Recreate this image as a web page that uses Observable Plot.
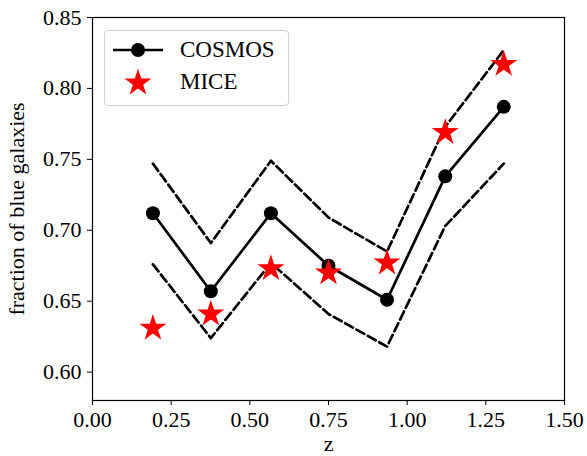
<!DOCTYPE html>
<html>
<head>
<meta charset="utf-8">
<script src="https://cdn.jsdelivr.net/npm/d3@7"></script>
<script src="https://cdn.jsdelivr.net/npm/@observablehq/plot@0.6"></script>
<style>
  html, body { margin: 0; padding: 0; background: #fff; }
  #wrap { position: relative; width: 587px; height: 456px; font-family: "Liberation Serif", "DejaVu Serif", serif; }
  #legend { position: absolute; left: 104px; top: 30px; width: 183px; height: 74px;
    border: 1px solid #d0d0d0; border-radius: 4px; background: rgba(255,255,255,0.85); }
  .lg-row { position: absolute; left: 0; height: 30px; display: flex; align-items: center; }
  .lg-row span { font-size: 23px; color: #000; position: absolute; left: 75px; white-space: nowrap; }
</style>
</head>
<body>
<div id="wrap"></div>
<script>
const z = [0.192, 0.376, 0.567, 0.750, 0.936, 1.121, 1.307];
const cosmos = [0.712, 0.657, 0.712, 0.675, 0.651, 0.738, 0.787];
const cosmosUpper = [0.747, 0.691, 0.749, 0.709, 0.685, 0.773, 0.827];
const cosmosLower = [0.676, 0.624, 0.677, 0.641, 0.618, 0.703, 0.747];
const mice = [0.631, 0.641, 0.673, 0.670, 0.677, 0.769, 0.817];
const xTicks = [0, 0.25, 0.5, 0.75, 1.0, 1.25, 1.5];
const yTicks = [0.60, 0.65, 0.70, 0.75, 0.80, 0.85];
const seriesNames = ["COSMOS", "MICE"];

const rows = z.map((zz, i) => ({z: zz, cosmos: cosmos[i], up: cosmosUpper[i], lo: cosmosLower[i], mice: mice[i]}));

const chart = Plot.plot({
  width: 587,
  height: 456,
  marginLeft: 92,
  marginRight: 23,
  marginTop: 17,
  marginBottom: 56,
  style: {fontFamily: "'Liberation Serif', 'DejaVu Serif', serif", fontSize: "22px", color: "#000", background: "#fff", overflow: "visible"},
  x: {domain: [0, 1.5], ticks: xTicks, tickFormat: d3.format(".2f"), tickSize: 5, tickPadding: 6, label: "z", labelAnchor: "center", labelOffset: 50, labelArrow: "none"},
  y: {domain: [0.58, 0.85], ticks: yTicks, tickFormat: d3.format(".2f"), tickSize: 5, tickPadding: 6, label: "fraction of blue galaxies", labelAnchor: "center", labelOffset: 84, labelArrow: "none"},
  marks: [
    Plot.line(rows, {x: "z", y: "up", stroke: "#000", strokeWidth: 2.7, strokeDasharray: "9,4"}),
    Plot.line(rows, {x: "z", y: "lo", stroke: "#000", strokeWidth: 2.7, strokeDasharray: "9,4"}),
    Plot.line(rows, {x: "z", y: "cosmos", stroke: "#000", strokeWidth: 2.7}),
    Plot.dot(rows, {x: "z", y: "cosmos", r: 7, fill: "#000"}),
    Plot.dot(rows, {x: "z", y: "mice", symbol: "star", r: 8.5, fill: "#ff0000", stroke: "none"}),
    Plot.frame({stroke: "#000", strokeWidth: 1.2})
  ]
});
const wrap = document.getElementById("wrap");
wrap.appendChild(chart);

// legend
const legend = document.createElement("div");
legend.id = "legend";
legend.innerHTML = `
  <div class="lg-row" style="top:4px;width:183px">
    <svg width="70" height="30" style="position:absolute;left:0;top:0">
      <line x1="8" x2="58" y1="15" y2="15" stroke="#000" stroke-width="2.7"/>
      <circle cx="33" cy="15" r="7" fill="#000"/>
    </svg>
    <span>${seriesNames[0]}</span>
  </div>
  <div class="lg-row" style="top:36px;width:183px">
    <svg width="70" height="30" style="position:absolute;left:0;top:0">
      <path transform="translate(33,16)" d="${d3.symbol(d3.symbolStar, Math.PI*8.5*8.5)()}" fill="#ff0000"/>
    </svg>
    <span>${seriesNames[1]}</span>
  </div>`;
wrap.appendChild(legend);
</script>
</body>
</html>
